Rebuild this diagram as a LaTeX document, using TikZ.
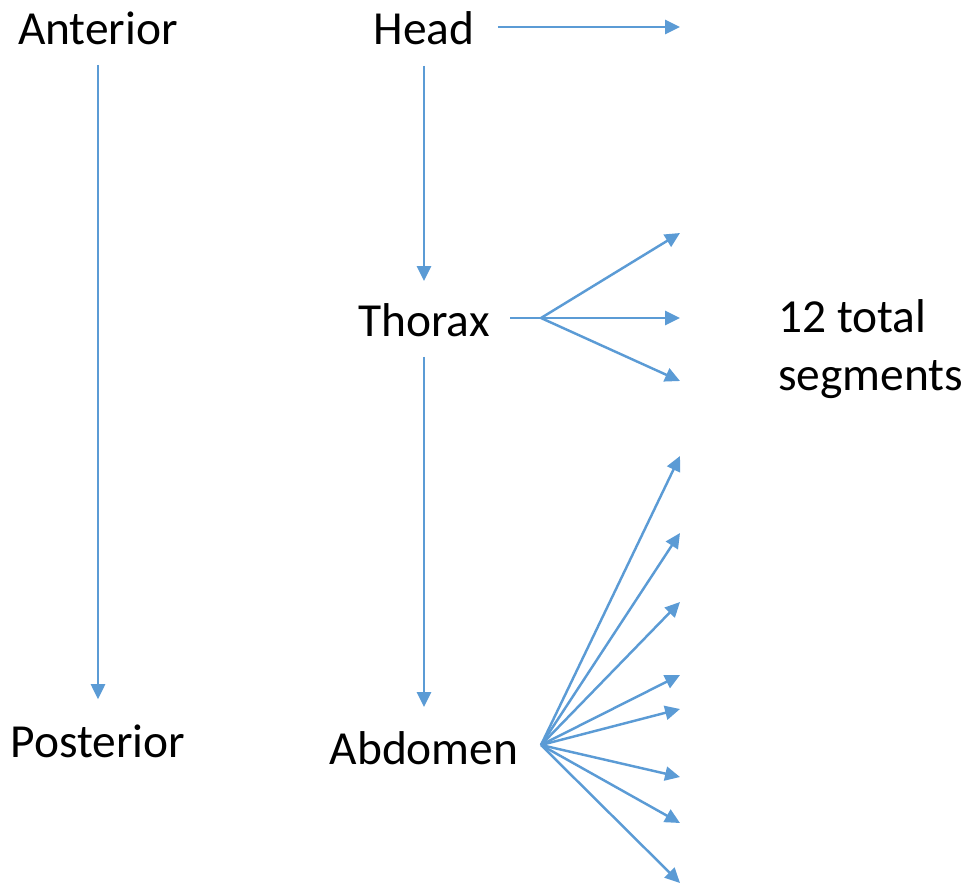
\documentclass[tikz,border=0pt]{standalone}
\usepackage{fontspec}
\setmainfont{Carlito}
\usetikzlibrary{arrows.meta}
\definecolor{segblue}{RGB}{91,155,213}

\begin{document}
\begin{tikzpicture}[x=0.02cm,y=-0.02cm,
  lbl/.style={font=\fontsize{27}{33}\selectfont,inner sep=0pt},
  arr/.style={draw=segblue,line width=1.4pt,-{Triangle[length=8.5pt,width=8pt]}},
  seg/.style={draw=segblue,line width=1.4pt}]
\useasboundingbox (0,0) rectangle (971,886);
% body axis
\node[lbl] (ant) at (98,28) {Anterior};
\node[lbl] (post) at (98,741) {Posterior};
\draw[arr,shorten <=0.4cm,shorten >=0.5cm] (ant) -- (post);
% tagmata
\node[lbl] (head) at (424,28) {Head};
\node[lbl] (thorax) at (424,320) {Thorax};
\node[lbl] (abdomen) at (424,748) {Abdomen};
\draw[arr,shorten <=0.42cm,shorten >=0.44cm] (head) -- (thorax);
\draw[arr,shorten <=0.4cm,shorten >=0.48cm] (thorax) -- (abdomen);
% segment ends
\coordinate (h1) at (680,27);
\coordinate (tx) at (541,318);
\coordinate (t1) at (680,233);
\coordinate (t2) at (680,318);
\coordinate (t3) at (680,381);
\coordinate (ax) at (541,745);
\coordinate (a1) at (680,456);
\coordinate (a2) at (680,533);
\coordinate (a3) at (680,602);
\coordinate (a4) at (680,675);
\coordinate (a5) at (680,709);
\coordinate (a6) at (680,777);
\coordinate (a7) at (680,823);
\coordinate (a8) at (680,883);
\draw[arr,shorten <=0.46cm] (head.east |- h1) -- (h1);
\draw[seg,shorten <=0.4cm] (thorax.east |- tx) -- (tx);
\foreach \t in {t1,t2,t3} \draw[arr] (tx) -- (\t);
\foreach \a in {a1,a2,a3,a4,a5,a6,a7,a8} \draw[arr] (ax) -- (\a);
\node[lbl,align=left,anchor=west] (total) at (778,349) {12 total\\segments};
\end{tikzpicture}
\end{document}
